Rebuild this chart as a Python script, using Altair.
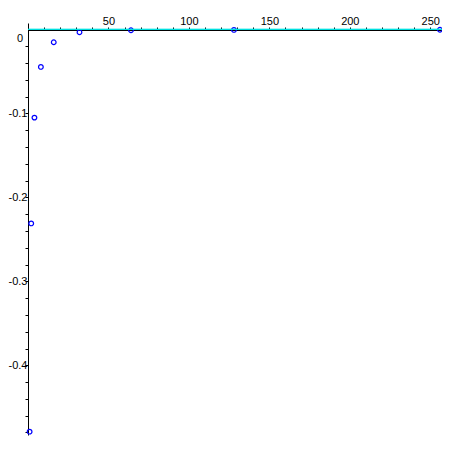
import altair as alt
import pandas as pd

# data
x_vals = [1, 2, 4, 8, 16, 32, 64, 128, 256]
y_vals = [-0.479, -0.231, -0.105, -0.0446, -0.0152, -0.0033, -0.0009, -0.0005, -0.0003]

# axis ticks / labels
x_ticks = [10, 20, 30, 40, 50, 60, 70, 80, 90, 100, 110, 120, 130, 140, 150,
           160, 170, 180, 190, 200, 210, 220, 230, 240, 250]
y_ticks = [-0.02, -0.04, -0.06, -0.08, -0.1, -0.12, -0.14, -0.16, -0.18, -0.2,
           -0.22, -0.24, -0.26, -0.28, -0.3, -0.32, -0.34, -0.36, -0.38, -0.4,
           -0.42, -0.44, -0.46, -0.48]
zero_label = ["0"]

df = pd.DataFrame({"x": x_vals, "y": y_vals})

xs = alt.Scale(domain=[0, 257.3], nice=False, zero=False)
ys = alt.Scale(domain=[-0.4830, 0.0077], nice=False, zero=False)

x_axis = alt.Axis(orient="top", values=x_ticks, offset=-7, grid=False, title=None,
                  labelExpr="datum.value % 50 == 0 ? '' + datum.value : ''",
                  tickSize=3, labelPadding=1, labelAngle=0,
                  labelOverlap=False, labelFlush=False, labelBound=False)
y_axis = alt.Axis(orient="left", values=y_ticks, grid=False, title=None,
                  labelExpr="abs(datum.value * 10 - round(datum.value * 10)) < 0.001 ? '' + datum.value : ''",
                  tickSize=3, labelPadding=-2,
                  labelOverlap=False, labelFlush=False, labelBound=False)

points = alt.Chart(df).mark_point(
    shape="circle", filled=False, color="#0000ff", size=22, strokeWidth=1.2, opacity=1
).encode(
    x=alt.X("x:Q", scale=xs, axis=x_axis),
    y=alt.Y("y:Q", scale=ys, axis=y_axis),
)

cyan = alt.Chart(df).mark_rule(color="#00e0e0", strokeWidth=1).encode(
    y=alt.YDatum(0, scale=ys, axis=y_axis)
)

zero = alt.Chart(pd.DataFrame({"t": zero_label})).mark_text(
    align="right", baseline="middle", dx=-5, dy=10,
    font="Liberation Sans", fontSize=11, color="black"
).encode(
    x=alt.XDatum(0, scale=xs, axis=x_axis),
    y=alt.YDatum(0, scale=ys, axis=y_axis),
    text="t:N",
)

chart = alt.layer(points, cyan, zero).properties(
    width=414, height=412,
    padding={"left": 20, "top": 15, "right": 0, "bottom": 1},
    autosize="none",
).configure_view(stroke=None).configure_axis(
    labelFont="Liberation Sans", labelFontSize=11, labelColor="black",
    domainColor="black", tickColor="black", domainWidth=1, tickWidth=1,
    labelOverlap=False,
)

chart.save("out.html", embed_options={"renderer": "svg", "actions": False})
